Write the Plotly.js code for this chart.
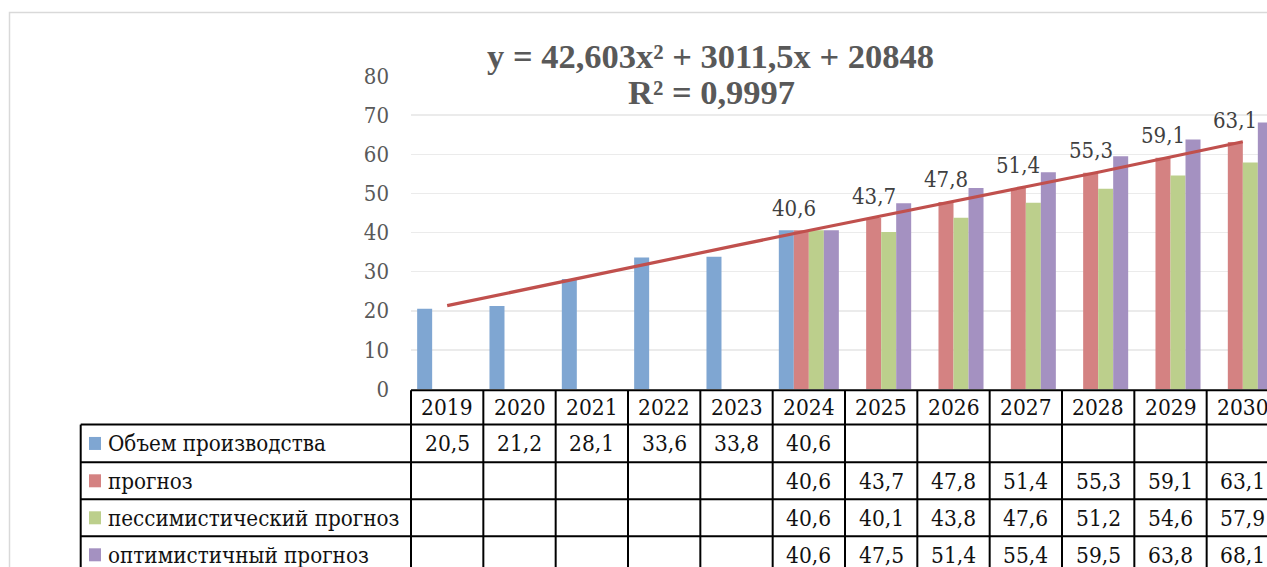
<!DOCTYPE html>
<html>
<head>
<meta charset="utf-8">
<script src="https://cdn.plot.ly/plotly-3.0.1.min.js"></script>
<style>
html, body { margin: 0; padding: 0; overflow: hidden; background: #ffffff; }
#chart { width: 1300px; height: 567px; }
</style>
</head>
<body>
<div id="chart"></div>
<script>
// ---- data ----
const years = ['2019', '2020', '2021', '2022', '2023', '2024', '2025', '2026', '2027', '2028', '2029', '2030'];
const volume      = [20.5, 21.2, 28.1, 33.6, 33.8, 40.6, null, null, null, null, null, null];
const forecast    = [null, null, null, null, null, 40.6, 43.7, 47.8, 51.4, 55.3, 59.1, 63.1];
const pessimistic = [null, null, null, null, null, 40.6, 40.1, 43.8, 47.6, 51.2, 54.6, 57.9];
const optimistic  = [null, null, null, null, null, 40.6, 47.5, 51.4, 55.4, 59.5, 63.8, 68.1];
const trendValues = [21.3, 25.1, 28.9, 32.7, 36.7, 40.5, 44.3, 48.0, 51.7, 55.4, 59.3, 63.2];
const seriesNames = ['Объем производства', 'прогноз', 'пессимистический прогноз', 'оптимистичный прогноз'];
const yTickValues = [0, 10, 20, 30, 40, 50, 60, 70, 80];
const trendEquation = 'y = 42,603x² + 3011,5x + 20848';
const trendR2 = 'R² = 0,9997';

// ---- styling ----
const colors = ['#7fa6d2', '#d48282', '#bccf8c', '#a491c1'];
const FONT = 'DejaVu Serif Condensed, DejaVu Serif, serif';
const W = 1300, H = 567;
const L = 411, R = 1279, T = 75.7, B = 388.7;
const plotW = R - L, plotH = B - T;
const px = v => (v - L) / plotW;          // pixel x -> paper x
const py = v => (B - v) / plotH;          // pixel y -> paper y
const nCat = years.length;
const fmt = v => v.toFixed(1).replace('.', ',');

const allSeries = [volume, forecast, pessimistic, optimistic];

const traces = allSeries.map((s, i) => ({
  type: 'bar',
  x: years,
  y: s,
  name: seriesNames[i],
  marker: { color: colors[i], line: { width: 0 } },
  hoverinfo: 'skip'
}));
traces.push({
  type: 'scatter',
  mode: 'lines',
  x: years,
  y: trendValues,
  line: { color: '#c0504d', width: 3.2 },
  hoverinfo: 'skip',
  showlegend: false
});

const shapes = [];
const annotations = [];
const lineStyle = { color: '#000000', width: 2 };

// outer chart border
shapes.push({ type: 'rect', xref: 'paper', yref: 'paper',
  x0: px(9.5), x1: px(1400), y0: py(12.3), y1: py(700),
  line: { color: '#d9d9d9', width: 1.5 }, fillcolor: 'rgba(0,0,0,0)', layer: 'below' });

// table geometry (pixels)
const headerTop = 390, rowLines = [424.3, 462, 499, 536], tableBottom = 600;
const leftX = 80.7;

shapes.push({ type: 'line', xref: 'paper', yref: 'paper', x0: px(L), x1: px(1400), y0: py(headerTop), y1: py(headerTop), line: lineStyle });
rowLines.forEach(y => shapes.push({ type: 'line', xref: 'paper', yref: 'paper', x0: px(leftX), x1: px(1400), y0: py(y), y1: py(y), line: lineStyle }));
shapes.push({ type: 'line', xref: 'paper', yref: 'paper', x0: px(leftX), x1: px(leftX), y0: py(rowLines[0]), y1: py(tableBottom), line: lineStyle });
for (let k = 0; k <= nCat; k++) {
  const xb = k / nCat;
  shapes.push({ type: 'line', xref: 'paper', yref: 'paper', x0: xb, x1: xb, y0: py(headerTop), y1: py(tableBottom), line: lineStyle });
}

// header years
years.forEach((yr, k) => {
  annotations.push({ xref: 'paper', yref: 'paper', x: (k + 0.5) / nCat, y: py((headerTop + rowLines[0]) / 2),
    text: yr, showarrow: false, xanchor: 'center', yanchor: 'middle',
    font: { family: FONT, size: 22.5, color: '#111111' } });
});

// rows: legend keys, labels, values
const rowBounds = [rowLines[0], rowLines[1], rowLines[2], rowLines[3], 573];
allSeries.forEach((s, i) => {
  const cy = (rowBounds[i] + rowBounds[i + 1]) / 2;
  shapes.push({ type: 'rect', xref: 'paper', yref: 'paper',
    x0: px(89), x1: px(101), y0: py(cy - 6.5), y1: py(cy + 6.5),
    line: { width: 0 }, fillcolor: colors[i] });
  annotations.push({ xref: 'paper', yref: 'paper', x: px(106), y: py(cy),
    text: seriesNames[i], showarrow: false, xanchor: 'left', yanchor: 'middle',
    font: { family: FONT, size: 22.2, color: '#111111' } });
  s.forEach((v, k) => {
    if (v === null) return;
    annotations.push({ xref: 'paper', yref: 'paper', x: (k + 0.5) / nCat, y: py(cy),
      text: fmt(v), showarrow: false, xanchor: 'center', yanchor: 'middle',
      font: { family: FONT, size: 22.5, color: '#111111' } });
  });
});

// data labels above forecast bars (category index on the x axis)
forecast.forEach((v, k) => {
  if (v === null) return;
  annotations.push({ xref: 'x', yref: 'y', x: k, y: v,
    text: fmt(v), showarrow: false, xanchor: 'center', yanchor: 'middle',
    xshift: k === 5 ? -15 : -7.5, yshift: 22,
    font: { family: FONT, size: 22, color: '#404040' } });
});

// trendline label
annotations.push({ xref: 'paper', yref: 'paper', x: px(710.5), y: py(56), text: trendEquation,
  showarrow: false, xanchor: 'center', yanchor: 'middle',
  font: { family: 'Liberation Serif, Times New Roman, serif', size: 34.5, color: '#595959', weight: 'bold' } });
annotations.push({ xref: 'paper', yref: 'paper', x: px(711), y: py(92), text: trendR2,
  showarrow: false, xanchor: 'center', yanchor: 'middle',
  font: { family: 'Liberation Serif, Times New Roman, serif', size: 34.5, color: '#595959', weight: 'bold' } });

const layout = {
  width: W, height: H, autosize: false,
  margin: { l: L, r: W - R, t: T, b: H - B, pad: 0 },
  paper_bgcolor: '#ffffff', plot_bgcolor: '#ffffff',
  barmode: 'group', bargap: 0.17, bargroupgap: 0,
  showlegend: false,
  xaxis: { type: 'category', range: [-0.5, nCat - 0.5], autorange: false,
    showticklabels: false, showgrid: false, zeroline: false, showline: false, ticks: '' },
  yaxis: { range: [0, 80], autorange: false, tickvals: yTickValues, ticktext: yTickValues.map(String),
    showgrid: true, gridcolor: '#ebebeb', gridwidth: 1.5, zeroline: false, showline: false, ticks: '',
    ticklabelstandoff: 21,
    tickfont: { family: FONT, size: 22, color: '#595959' } },
  shapes: shapes,
  annotations: annotations
};

Plotly.newPlot('chart', traces, layout, { displayModeBar: false, staticPlot: true });
</script>
</body>
</html>
